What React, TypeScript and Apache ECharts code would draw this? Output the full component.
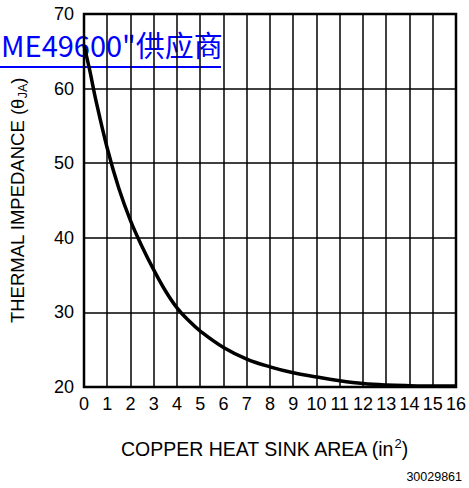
import React, { useEffect, useRef } from "react";
import * as echarts from "echarts";

const xValues = [0, 0.25, 0.5, 1, 1.5, 2, 2.5, 3, 3.5, 4, 4.5, 5, 6, 7, 8, 9, 10, 11, 12, 13, 14, 15, 16];
const impedance = [65.8, 62.4, 58.6, 52.0, 46.6, 42.3, 38.8, 35.7, 32.9, 30.6, 28.9, 27.5, 25.3, 23.75, 22.7, 21.9, 21.35, 20.85, 20.47, 20.27, 20.18, 20.14, 20.12];
const xTicks = { min: 0, max: 16, step: 1 };
const yTicks = { min: 20, max: 70, step: 10 };

const FONT = "'Liberation Sans', Arial, sans-serif";

export default function App() {
  const ref = useRef<HTMLDivElement>(null);
  useEffect(() => {
    if (!ref.current) return;
    const chart = echarts.init(ref.current, undefined, { renderer: "svg" });
    const data = xValues.map((x, i) => [x, impedance[i]]);
    chart.setOption({
      animation: false,
      backgroundColor: "#ffffff",
      textStyle: { fontFamily: FONT },
      grid: {
        left: 83,
        right: 12,
        top: 14,
        bottom: 101,
        show: true,
        borderColor: "#000",
        borderWidth: 2.5,
        backgroundColor: "transparent",
      },
      xAxis: {
        type: "value",
        min: xTicks.min,
        max: xTicks.max,
        interval: xTicks.step,
        axisLine: { show: false },
        axisTick: { show: false },
        splitLine: { show: true, lineStyle: { color: "#000", width: 1.5 } },
        axisLabel: { color: "#000", fontSize: 18, margin: 8, fontFamily: FONT },
        name: "COPPER HEAT SINK AREA (in{sup|2})",
        nameLocation: "middle",
        nameGap: 50,
        nameTextStyle: {
          color: "#000",
          fontSize: 19.5,
          fontFamily: FONT,
          padding: [0, 12, 0, 0],
          rich: {
            sup: { fontSize: 13, verticalAlign: "top", lineHeight: 24, fontFamily: FONT, color: "#000" },
          },
        },
      },
      yAxis: {
        type: "value",
        min: yTicks.min,
        max: yTicks.max,
        interval: yTicks.step,
        axisLine: { show: false },
        axisTick: { show: false },
        splitLine: { show: true, lineStyle: { color: "#000", width: 1.5 } },
        axisLabel: { color: "#000", fontSize: 18, margin: 10, fontFamily: FONT },
        name: "THERMAL IMPEDANCE (θ{sub|JA})",
        nameLocation: "middle",
        nameGap: 55,
        nameTextStyle: {
          color: "#000",
          fontSize: 18.5,
          fontFamily: FONT,
          rich: {
            sub: { fontSize: 12.5, verticalAlign: "bottom", lineHeight: 23, fontFamily: FONT, color: "#000" },
          },
        },
      },
      series: [
        {
          type: "line",
          data,
          smooth: 0.4,
          showSymbol: false,
          lineStyle: { color: "#000", width: 3.5 },
          z: 5,
        },
      ],
      graphic: [
        {
          type: "text",
          z: -10,
          x: 1,
          y: 44,
          style: {
            text: "ME49600\"供应商",
            align: "left",
            verticalAlign: "middle",
            fontSize: 29,
            fontFamily: "'Noto Sans CJK SC', sans-serif",
            fill: "#0000ff",
          },
        },
        {
          type: "rect",
          z: -10,
          shape: { x: 0, y: 66, width: 221, height: 2 },
          style: { fill: "#0000ff" },
        },
        {
          type: "text",
          x: 462,
          y: 477,
          style: {
            text: "30029861",
            align: "right",
            verticalAlign: "middle",
            fontSize: 12.5,
            fontFamily: FONT,
            fill: "#000",
          },
        },
      ],
    });
    return () => chart.dispose();
  }, []);
  return (
    <div
      ref={ref}
      style={{ position: "absolute", left: 0, top: 0, width: 469, height: 488 }}
    />
  );
}
